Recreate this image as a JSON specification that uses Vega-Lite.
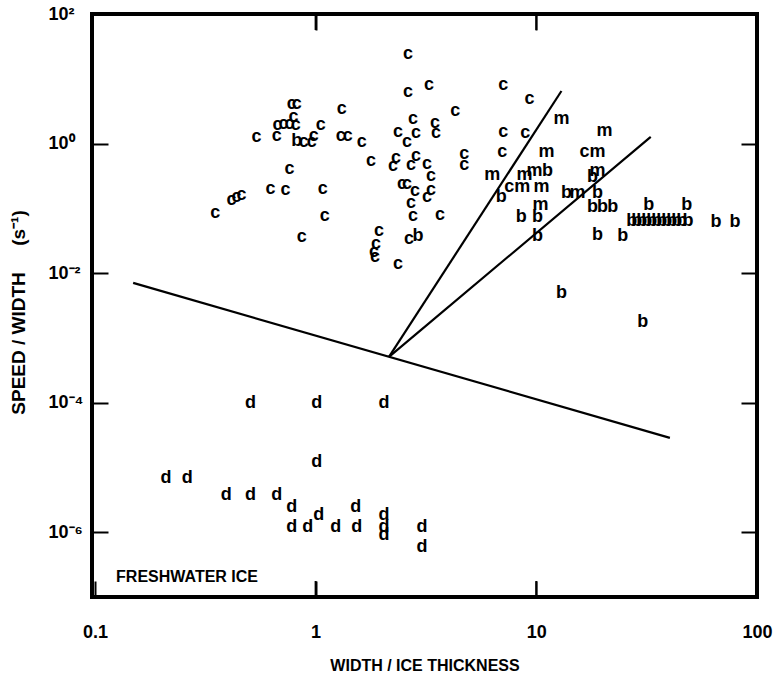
{
  "$schema": "https://vega.github.io/schema/vega-lite/v6.json",
  "width": 665,
  "height": 583,
  "autosize": {"type": "none"},
  "padding": {"left": 92, "top": 14, "right": 17, "bottom": 85},
  "background": "white",
  "config": {
    "view": {"stroke": "black", "strokeWidth": 4},
    "font": "Liberation Sans",
    "axis": {
      "domain": false, "grid": false, "ticks": true, "tickWidth": 2,
      "labelColor": "black", "titleColor": "black",
      "labelFont": "Liberation Sans", "labelFontWeight": "bold",
      "titleFont": "Liberation Sans", "titleFontWeight": "bold"
    }
  },
  "datasets": {
    "lines": [
      {"seg": "lower", "x": 0.149, "y": 0.00706},
      {"seg": "lower", "x": 40.3, "y": 0.0000286},
      {"seg": "up1", "x": 2.15, "y": 0.00051},
      {"seg": "up1", "x": 13.0, "y": 6.48},
      {"seg": "up2", "x": 2.15, "y": 0.00051},
      {"seg": "up2", "x": 33.0, "y": 1.265}
    ],
    "xticks": [
      {"x": 1, "y": 0.0000001},
      {"x": 10, "y": 0.0000001},
      {"x": 1, "y": 100},
      {"x": 10, "y": 100}
    ],
    "notes": [
      {"x": 0.1247, "y": 0.000000205, "label": "FRESHWATER ICE"}
    ],
    "points": [
      {"label": "c", "x": 0.351, "y": 0.0849},
      {"label": "c", "x": 0.416, "y": 0.135},
      {"label": "c", "x": 0.438, "y": 0.150},
      {"label": "c", "x": 0.461, "y": 0.161},
      {"label": "c", "x": 0.540, "y": 1.265},
      {"label": "c", "x": 0.625, "y": 0.199},
      {"label": "c", "x": 0.666, "y": 1.310},
      {"label": "c", "x": 0.672, "y": 1.936},
      {"label": "c", "x": 0.716, "y": 2.006},
      {"label": "c", "x": 0.762, "y": 2.006},
      {"label": "c", "x": 0.812, "y": 1.936},
      {"label": "c", "x": 0.795, "y": 2.573},
      {"label": "c", "x": 0.779, "y": 4.084},
      {"label": "c", "x": 0.821, "y": 4.084},
      {"label": "c", "x": 0.731, "y": 0.192},
      {"label": "c", "x": 0.762, "y": 0.406},
      {"label": "c", "x": 0.883, "y": 1.058},
      {"label": "c", "x": 0.960, "y": 1.058},
      {"label": "c", "x": 0.980, "y": 1.310},
      {"label": "c", "x": 0.865, "y": 0.0362},
      {"label": "c", "x": 1.055, "y": 1.936},
      {"label": "c", "x": 1.077, "y": 0.199},
      {"label": "c", "x": 1.100, "y": 0.0763},
      {"label": "c", "x": 1.314, "y": 3.420},
      {"label": "c", "x": 1.300, "y": 1.310},
      {"label": "c", "x": 1.399, "y": 1.310},
      {"label": "c", "x": 1.620, "y": 1.058},
      {"label": "c", "x": 1.780, "y": 0.539},
      {"label": "c", "x": 1.935, "y": 0.0448},
      {"label": "c", "x": 1.876, "y": 0.0282},
      {"label": "c", "x": 1.837, "y": 0.0212},
      {"label": "c", "x": 1.856, "y": 0.0178},
      {"label": "c", "x": 2.362, "y": 0.0139},
      {"label": "c", "x": 2.313, "y": 0.600},
      {"label": "c", "x": 2.241, "y": 0.451},
      {"label": "c", "x": 2.362, "y": 1.510},
      {"label": "c", "x": 2.595, "y": 1.058},
      {"label": "c", "x": 2.622, "y": 24.13},
      {"label": "c", "x": 2.622, "y": 6.255},
      {"label": "c", "x": 2.462, "y": 0.238},
      {"label": "c", "x": 2.595, "y": 0.238},
      {"label": "c", "x": 2.706, "y": 0.467},
      {"label": "c", "x": 2.851, "y": 0.644},
      {"label": "c", "x": 2.763, "y": 2.397},
      {"label": "c", "x": 2.851, "y": 1.457},
      {"label": "c", "x": 2.821, "y": 0.186},
      {"label": "c", "x": 2.706, "y": 0.121},
      {"label": "c", "x": 2.763, "y": 0.0763},
      {"label": "c", "x": 2.650, "y": 0.0337},
      {"label": "c", "x": 3.199, "y": 0.484},
      {"label": "c", "x": 3.336, "y": 0.316},
      {"label": "c", "x": 3.336, "y": 0.192},
      {"label": "c", "x": 3.199, "y": 0.150},
      {"label": "c", "x": 3.267, "y": 8.022},
      {"label": "c", "x": 3.478, "y": 2.079},
      {"label": "c", "x": 3.515, "y": 1.457},
      {"label": "c", "x": 3.665, "y": 0.0791},
      {"label": "c", "x": 4.288, "y": 3.185},
      {"label": "c", "x": 4.712, "y": 0.691},
      {"label": "c", "x": 4.712, "y": 0.467},
      {"label": "c", "x": 7.086, "y": 8.022},
      {"label": "c", "x": 9.304, "y": 4.879},
      {"label": "c", "x": 7.086, "y": 1.510},
      {"label": "c", "x": 8.922, "y": 1.457},
      {"label": "c", "x": 7.013, "y": 0.742},
      {"label": "c", "x": 7.545, "y": 0.214},
      {"label": "c", "x": 16.54, "y": 0.742},
      {"label": "m", "x": 13.00, "y": 2.397},
      {"label": "m", "x": 20.39, "y": 1.564},
      {"label": "m", "x": 11.12, "y": 0.742},
      {"label": "m", "x": 18.96, "y": 0.742},
      {"label": "m", "x": 6.316, "y": 0.328},
      {"label": "m", "x": 8.830, "y": 0.328},
      {"label": "m", "x": 9.802, "y": 0.378},
      {"label": "m", "x": 18.96, "y": 0.378},
      {"label": "m", "x": 8.645, "y": 0.214},
      {"label": "m", "x": 10.55, "y": 0.214},
      {"label": "m", "x": 15.37, "y": 0.173},
      {"label": "m", "x": 10.44, "y": 0.113},
      {"label": "b", "x": 0.821, "y": 1.097},
      {"label": "b", "x": 2.911, "y": 0.0375},
      {"label": "b", "x": 11.23, "y": 0.378},
      {"label": "b", "x": 17.99, "y": 0.305},
      {"label": "b", "x": 6.939, "y": 0.150},
      {"label": "b", "x": 13.71, "y": 0.173},
      {"label": "b", "x": 18.96, "y": 0.173},
      {"label": "b", "x": 17.99, "y": 0.105},
      {"label": "b", "x": 19.97, "y": 0.105},
      {"label": "b", "x": 22.18, "y": 0.105},
      {"label": "b", "x": 32.33, "y": 0.113},
      {"label": "b", "x": 48.11, "y": 0.113},
      {"label": "b", "x": 27.06, "y": 0.0639},
      {"label": "b", "x": 28.51, "y": 0.0639},
      {"label": "b", "x": 30.04, "y": 0.0639},
      {"label": "b", "x": 31.65, "y": 0.0639},
      {"label": "b", "x": 33.36, "y": 0.0639},
      {"label": "b", "x": 35.15, "y": 0.0639},
      {"label": "b", "x": 37.04, "y": 0.0639},
      {"label": "b", "x": 39.03, "y": 0.0639},
      {"label": "b", "x": 41.13, "y": 0.0639},
      {"label": "b", "x": 43.34, "y": 0.0639},
      {"label": "b", "x": 45.66, "y": 0.0639},
      {"label": "b", "x": 48.62, "y": 0.0639},
      {"label": "b", "x": 65.19, "y": 0.0617},
      {"label": "b", "x": 79.53, "y": 0.0617},
      {"label": "b", "x": 8.553, "y": 0.0737},
      {"label": "b", "x": 10.12, "y": 0.0737},
      {"label": "b", "x": 10.12, "y": 0.0375},
      {"label": "b", "x": 18.96, "y": 0.0389},
      {"label": "b", "x": 24.63, "y": 0.0375},
      {"label": "b", "x": 13.00, "y": 0.00495},
      {"label": "b", "x": 30.35, "y": 0.00177},
      {"label": "d", "x": 0.507, "y": 0.0001},
      {"label": "d", "x": 1.012, "y": 0.0001},
      {"label": "d", "x": 2.039, "y": 0.0001},
      {"label": "d", "x": 1.012, "y": 0.0000122},
      {"label": "d", "x": 0.210, "y": 0.00000691},
      {"label": "d", "x": 0.262, "y": 0.00000691},
      {"label": "d", "x": 0.394, "y": 0.00000378},
      {"label": "d", "x": 0.507, "y": 0.00000378},
      {"label": "d", "x": 0.666, "y": 0.00000378},
      {"label": "d", "x": 0.779, "y": 0.00000247},
      {"label": "d", "x": 1.521, "y": 0.00000247},
      {"label": "d", "x": 1.033, "y": 0.00000186},
      {"label": "d", "x": 0.779, "y": 0.00000121},
      {"label": "d", "x": 0.921, "y": 0.00000121},
      {"label": "d", "x": 1.234, "y": 0.00000121},
      {"label": "d", "x": 1.537, "y": 0.00000121},
      {"label": "d", "x": 2.039, "y": 0.00000186},
      {"label": "d", "x": 2.039, "y": 0.00000121},
      {"label": "d", "x": 2.039, "y": 0.000000912},
      {"label": "d", "x": 3.035, "y": 0.00000121},
      {"label": "d", "x": 3.035, "y": 0.000000595}
    ]
  },
  "layer": [
    {
      "data": {"name": "lines"},
      "mark": {"type": "line", "color": "black", "strokeWidth": 2.2},
      "encoding": {
        "x": {
          "field": "x", "type": "quantitative",
          "scale": {"type": "log", "domain": [0.097, 100]},
          "axis": {
            "orient": "bottom", "offset": -16, "values": [0.1, 1, 10, 100], "format": "~g",
            "tickSize": 16, "labelPadding": 26, "labelFontSize": 18,
            "labelFlush": false, "tickColor": "black",
            "title": "WIDTH / ICE THICKNESS", "titleFontSize": 16,
            "titleY": 84, "titleBaseline": "middle"
          }
        },
        "y": {
          "field": "y", "type": "quantitative",
          "scale": {"type": "log", "domain": [0.0000001, 100]},
          "axis": {
            "orient": "left", "offset": -16, "values": [0.000001, 0.0001, 0.01, 1, 100],
            "labelExpr": "datum.value >= 50 ? '10²' : datum.value >= 0.5 ? '10⁰' : datum.value >= 0.005 ? '10⁻²' : datum.value >= 0.00005 ? '10⁻⁴' : '10⁻⁶'",
            "tickSize": 16, "labelPadding": 44, "labelAlign": "left", "labelBaseline": "middle",
            "labelFontSize": 18, "labelFlush": false, "tickColor": "black",
            "title": "SPEED / WIDTH\u00a0\u00a0\u00a0\u00a0\u00a0(s⁻¹)", "titleFontSize": 19,
            "titleX": -90, "titleY": 298, "titleAngle": -90,
            "titleAlign": "center", "titleBaseline": "middle"
          }
        },
        "detail": {"field": "seg"}
      }
    },
    {
      "data": {"name": "points"},
      "mark": {"type": "text", "font": "Liberation Sans", "fontWeight": "bold", "fontSize": 18, "baseline": "middle", "align": "center", "color": "black"},
      "encoding": {
        "x": {
          "field": "x", "type": "quantitative",
          "scale": {"type": "log", "domain": [0.097, 100]},
          "axis": {"orient": "top", "offset": -16, "values": [1, 10], "labels": false, "title": null, "tickSize": 16, "tickColor": "black"}
        },
        "y": {
          "field": "y", "type": "quantitative",
          "scale": {"type": "log", "domain": [0.0000001, 100]},
          "axis": {"orient": "right", "offset": -16, "values": [0.000001, 0.0001, 0.01, 1], "labels": false, "title": null, "tickSize": 16, "tickColor": "black"}
        },
        "text": {"field": "label"}
      }
    },
    {
      "data": {"name": "xticks"},
      "mark": {"type": "tick", "orient": "vertical", "color": "black", "size": 32, "thickness": 2, "clip": true, "opacity": 1},
      "encoding": {
        "x": {"field": "x", "type": "quantitative", "scale": {"type": "log", "domain": [0.097, 100]}, "axis": null},
        "y": {"field": "y", "type": "quantitative", "scale": {"type": "log", "domain": [0.0000001, 100]}, "axis": null}
      }
    },
    {
      "data": {"name": "notes"},
      "mark": {"type": "text", "font": "Liberation Sans", "fontWeight": "bold", "fontSize": 16, "baseline": "middle", "align": "left", "color": "black"},
      "encoding": {
        "x": {"field": "x", "type": "quantitative", "scale": {"type": "log", "domain": [0.097, 100]}, "axis": null},
        "y": {"field": "y", "type": "quantitative", "scale": {"type": "log", "domain": [0.0000001, 100]}, "axis": null},
        "text": {"field": "label"}
      }
    }
  ],
  "resolve": {"axis": {"x": "independent", "y": "independent"}}
}
